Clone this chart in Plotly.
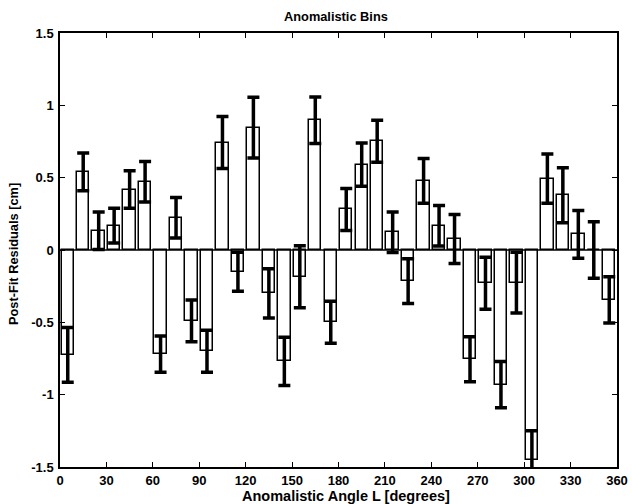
import plotly.graph_objects as go

angles = [5 + 10 * i for i in range(36)]
residuals = [-0.725, 0.54, 0.133, 0.168, 0.418, 0.471, -0.72, 0.223, -0.49, -0.70,
             0.743, -0.15, 0.846, -0.30, -0.77, -0.185, 0.897, -0.50, 0.28, 0.59,
             0.752, 0.122, -0.215, 0.478, 0.168, 0.076, -0.755, -0.23, -0.93, -0.225,
             -1.45, 0.494, 0.379, 0.108, 0.0, -0.345]
sigmas = [0.19, 0.13, 0.13, 0.12, 0.13, 0.14, 0.125, 0.14, 0.145, 0.145,
          0.18, 0.135, 0.21, 0.17, 0.167, 0.215, 0.16, 0.145, 0.145, 0.15,
          0.145, 0.14, 0.155, 0.155, 0.14, 0.17, 0.155, 0.18, 0.16, 0.21,
          0.2, 0.17, 0.19, 0.165, 0.195, 0.16]
x_ticks = list(range(0, 361, 30))
y_ticks = [-1.5, -1, -0.5, 0, 0.5, 1, 1.5]
y_tick_text = ["-1.5", "-1", "-0.5", "0", "0.5", "1", "1.5"]

FAM = "Liberation Sans, Arial, sans-serif"
tick_font = dict(family=FAM, size=13, color="black", weight="bold")
title_font = dict(family=FAM, size=12.8, color="black", weight="bold")
xlab_font = dict(family=FAM, size=14.5, color="black", weight="bold")
ylab_font = dict(family=FAM, size=12.8, color="black", weight="bold")

W, H = 632, 504
ML, MR, MT, MB = 60, 15, 33, 37

fig = go.Figure()
fig.add_trace(go.Bar(
    x=angles, y=residuals, width=8,
    marker=dict(color="white", line=dict(color="black", width=1.5)),
    error_y=dict(type="data", array=sigmas, visible=True, color="black",
                 thickness=3.5, width=6),
    showlegend=False,
))

axis_common = dict(showline=True, linecolor="black", linewidth=1.5, mirror="ticks",
                   ticks="inside", ticklen=5, tickcolor="black", tickwidth=1,
                   showgrid=False, zeroline=False, tickfont=tick_font, automargin=False)

fig.update_layout(
    width=W, height=H,
    margin=dict(l=ML, r=MR, t=MT, b=MB),
    paper_bgcolor="white", plot_bgcolor="white",
    xaxis=dict(range=[0, 360], tickvals=x_ticks, ticktext=[str(v) for v in x_ticks],
               ticklabelstandoff=1, **axis_common),
    yaxis=dict(range=[-1.5, 1.5], tickvals=y_ticks, ticktext=y_tick_text,
               ticklabelstandoff=2, **axis_common),
    bargap=0,
)
fig.add_shape(type="line", xref="paper", yref="y", x0=0, x1=1, y0=0, y1=0,
              line=dict(color="black", width=1.5))

ph = H - MT - MB
pw = W - ML - MR
# title
fig.add_annotation(text="Anomalistic Bins", xref="paper", yref="paper",
                   x=(336 - ML) / pw, y=(H - MB - 17) / ph, xanchor="center", yanchor="middle",
                   showarrow=False, font=title_font)
# x axis title
fig.add_annotation(text="Anomalistic Angle L [degrees]", xref="paper", yref="paper",
                   x=(346 - ML) / pw, y=(H - MB - 496) / ph, xanchor="center", yanchor="middle",
                   showarrow=False, font=xlab_font)
# y axis title
fig.add_annotation(text="Post-Fit Residuals [cm]", xref="paper", yref="paper",
                   x=(14 - ML) / pw, y=(H - MB - 254) / ph, xanchor="center", yanchor="middle",
                   textangle=-90, showarrow=False, font=ylab_font)

fig.write_html("out.html", config={"displayModeBar": False},
               post_script="document.body.style.margin='0px';document.body.style.padding='0px';")
